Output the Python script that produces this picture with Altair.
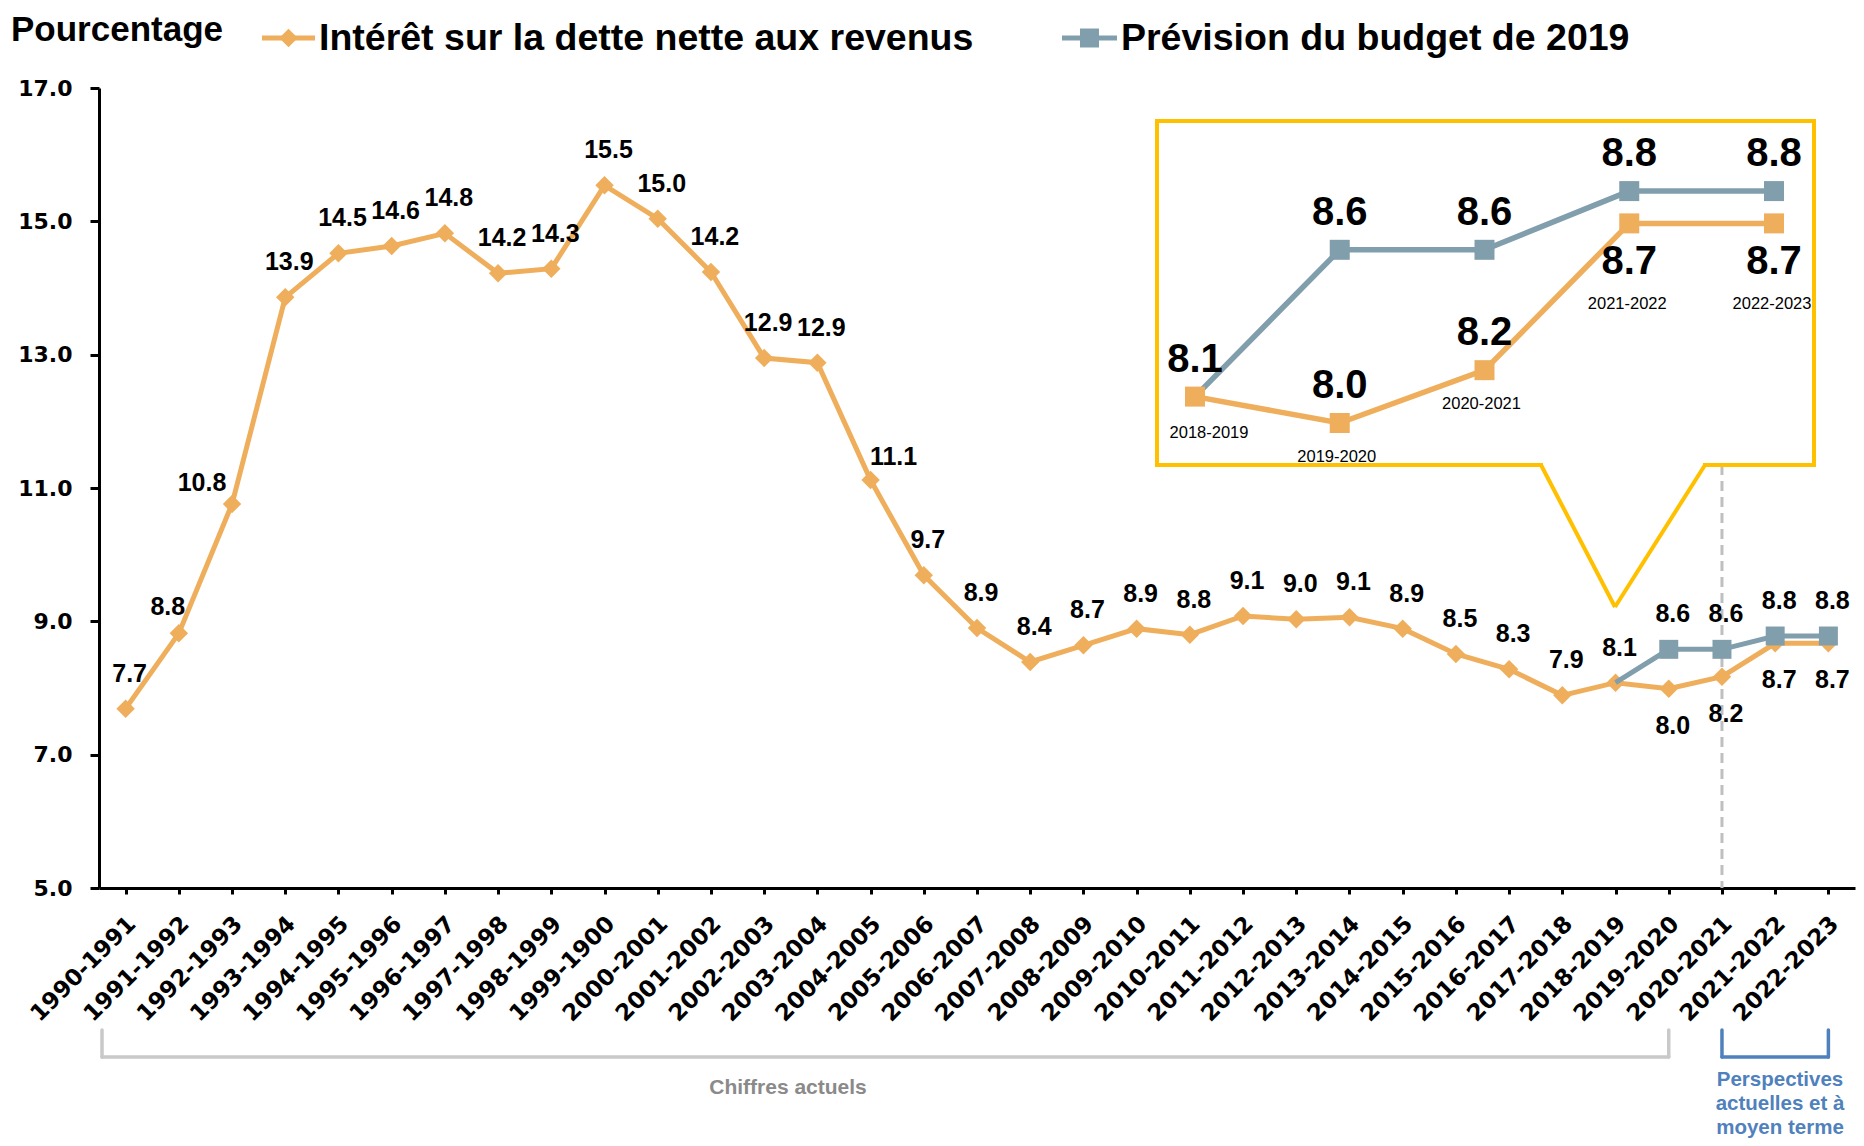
import altair as alt
import pandas as pd

# ---------------- data ----------------
categories = ["1990-1991", "1991-1992", "1992-1993", "1993-1994", "1994-1995", "1995-1996",
              "1996-1997", "1997-1998", "1998-1999", "1999-1900", "2000-2001", "2001-2002",
              "2002-2003", "2003-2004", "2004-2005", "2005-2006", "2006-2007", "2007-2008",
              "2008-2009", "2009-2010", "2010-2011", "2011-2012", "2012-2013", "2013-2014",
              "2014-2015", "2015-2016", "2016-2017", "2017-2018", "2018-2019", "2019-2020",
              "2020-2021", "2021-2022", "2022-2023"]
interest_values = [7.69, 8.82, 10.76, 13.86, 14.52, 14.63, 14.82, 14.22, 14.29, 15.54, 15.04, 14.24,
                   12.95, 12.88, 11.12, 9.69, 8.90, 8.39, 8.64, 8.89, 8.80, 9.08, 9.03, 9.06,
                   8.89, 8.51, 8.28, 7.89, 8.08, 7.99, 8.17, 8.67, 8.67]
interest_labels = ["7.7", "8.8", "10.8", "13.9", "14.5", "14.6", "14.8", "14.2", "14.3", "15.5", "15.0",
                   "14.2", "12.9", "12.9", "11.1", "9.7", "8.9", "8.4", "8.7", "8.9", "8.8", "9.1",
                   "9.0", "9.1", "8.9", "8.5", "8.3", "7.9", "8.1", "8.0", "8.2", "8.7", "8.7"]
budget_categories = ["2018-2019", "2019-2020", "2020-2021", "2021-2022", "2022-2023"]
budget_values = [8.08, 8.58, 8.58, 8.78, 8.78]
budget_labels = ["8.1", "8.6", "8.6", "8.8", "8.8"]
y_ticks = [5, 7, 9, 11, 13, 15, 17]

series_names = ["Intérêt sur la dette nette aux revenus", "Prévision du budget de 2019"]
actual_label = "Chiffres actuels"
outlook_label = "Perspectives\nactuelles et à\nmoyen terme"
y_title = "Pourcentage"

# ---------------- styling ----------------
ORANGE = "#EFAE5B"
BLUE = "#819EAD"
YELLOW = "#FFC000"
FONT = "Liberation Sans"
W, H = 1756, 800

df = pd.DataFrame({"cat": categories, "val": interest_values, "lab": interest_labels})
bdf = pd.DataFrame({"cat": budget_categories, "val": budget_values, "lab": budget_labels})
one = pd.DataFrame({"a": [0]})

forecast = budget_categories[1:]
upper_left = ["1991-1992"]
left = ["1992-1993"]
upper_right = ["2004-2005"]


def place(c):
    if c in forecast:
        return "below"
    if c in upper_left:
        return "ul"
    if c in left:
        return "l"
    if c in upper_right:
        return "ur"
    return "above"


df["pos"] = df["cat"].map(place)

x_axis = alt.Axis(labelAngle=-45, labelFont="DejaVu Sans", labelFontWeight="bold", labelFontSize=23,
                  labelColor="black", labelPadding=26, labelOffset=6, tickSize=6, tickWidth=3,
                  tickColor="black", domainColor="black", domainWidth=3, grid=False, title=None,
                  labelAlign="right", labelBaseline="middle")
y_axis = alt.Axis(values=y_ticks, format=".1f", labelFont="DejaVu Sans", labelFontWeight="bold",
                  labelFontSize=22, labelColor="black", labelPadding=18, tickSize=9, tickWidth=3,
                  tickColor="black", domainColor="black", domainWidth=3, grid=False, title=None)

X = alt.X("cat:N", scale=alt.Scale(type="point", domain=categories, padding=0.5), axis=x_axis)
Y = alt.Y("val:Q", scale=alt.Scale(domain=[5, 17], nice=False, zero=False), axis=y_axis)

# ---------------- main chart ----------------
dashed = alt.Chart(df[df["cat"] == "2020-2021"]).mark_rule(
    color="#BFBFBF", strokeWidth=3, strokeDash=[10, 6]).encode(x=X, y=alt.value(377), y2=alt.value(H))

orange_line = alt.Chart(df).mark_line(color=ORANGE, strokeWidth=5).encode(x=X, y=Y)
orange_pts = alt.Chart(df).mark_point(shape="diamond", filled=True, size=340, color=ORANGE,
                                      opacity=1).encode(x=X, y=Y)
blue_line = alt.Chart(bdf).mark_line(color=BLUE, strokeWidth=5).encode(x=X, y=Y)
blue_pts = alt.Chart(bdf.iloc[1:]).mark_point(shape="square", filled=True, size=360, color=BLUE,
                                               opacity=1).encode(x=X, y=Y)


def labels(data, dx, dy):
    return alt.Chart(data).mark_text(font=FONT, fontWeight="bold", fontSize=25, color="black",
                                     dx=dx, dy=dy, baseline="middle", align="center").encode(
        x=X, y=Y, text="lab:N")


lab_above = labels(df[df["pos"] == "above"], 4, -35)
lab_below = labels(df[df["pos"] == "below"], 4, 37)
lab_ul = labels(df[df["pos"] == "ul"], -11, -26)
lab_l = labels(df[df["pos"] == "l"], -30, -21)
lab_ur = labels(df[df["pos"] == "ur"], 23, -23)
lab_blue = labels(bdf.iloc[1:], 4, -35)

# brackets under the axis
GRAY = "#C9C9C9"
BBLUE = "#4F81BD"
end_actual = pd.DataFrame({"cat": [forecast[0]]})
gray_left = alt.Chart(one).mark_rule(color=GRAY, strokeWidth=3.5, strokeCap="round").encode(
    x=alt.value(3), y=alt.value(942), y2=alt.value(969))
gray_right = alt.Chart(end_actual).mark_rule(color=GRAY, strokeWidth=3.5, strokeCap="round").encode(
    x=X, y=alt.value(942), y2=alt.value(969))
gray_h = alt.Chart(end_actual).mark_rule(color=GRAY, strokeWidth=3.5, strokeCap="round").encode(
    x=X, x2=alt.value(3), y=alt.value(969))
outlook_ends = pd.DataFrame({"cat": [budget_categories[2], budget_categories[4]]})
outlook_span = pd.DataFrame({"cat": [budget_categories[2]], "end": [budget_categories[4]]})
blue_v = alt.Chart(outlook_ends).mark_rule(color=BBLUE, strokeWidth=3.5, strokeCap="round").encode(
    x=X, y=alt.value(942), y2=alt.value(969))
blue_h = alt.Chart(outlook_span).mark_rule(color=BBLUE, strokeWidth=3.5, strokeCap="round").encode(
    x=X, x2=alt.X2("end:N"), y=alt.value(969))
actual_txt = alt.Chart(one).mark_text(font=FONT, fontWeight="bold", fontSize=21, color="#8A8A8A",
                                      align="center").encode(
    x=alt.value(689), y=alt.value(1000), text=alt.value(actual_label))
outlook_txt = alt.Chart(one).mark_text(font=FONT, fontWeight="bold", fontSize=20.5, color=BBLUE,
                                       align="center", lineBreak="\n", lineHeight=24).encode(
    x=alt.value(1681), y=alt.value(992), text=alt.value(outlook_label))

# legend + title
leg_o_line = alt.Chart(one).mark_rule(color=ORANGE, strokeWidth=5).encode(
    x=alt.value(163), x2=alt.value(216), y=alt.value(-50))
leg_o_pt = alt.Chart(one).mark_point(shape="diamond", filled=True, size=340, color=ORANGE,
                                     opacity=1).encode(x=alt.value(189.5), y=alt.value(-50))
leg_o_txt = alt.Chart(one).mark_text(font=FONT, fontWeight="bold", fontSize=37.5, color="black",
                                     align="left", baseline="middle").encode(
    x=alt.value(220), y=alt.value(-49), text=alt.value(series_names[0]))
leg_b_line = alt.Chart(one).mark_rule(color=BLUE, strokeWidth=5).encode(
    x=alt.value(963), x2=alt.value(1018), y=alt.value(-50))
leg_b_pt = alt.Chart(one).mark_point(shape="square", filled=True, size=360, color=BLUE,
                                     opacity=1).encode(x=alt.value(990.5), y=alt.value(-50))
leg_b_txt = alt.Chart(one).mark_text(font=FONT, fontWeight="bold", fontSize=37.5, color="black",
                                     align="left", baseline="middle").encode(
    x=alt.value(1022), y=alt.value(-49), text=alt.value(series_names[1]))
title_txt = alt.Chart(one).mark_text(font=FONT, fontWeight="bold", fontSize=35, color="black",
                                     align="left", baseline="alphabetic").encode(
    x=alt.value(-88), y=alt.value(-47), text=alt.value(y_title))

main = alt.layer(dashed, orange_line, orange_pts, blue_line, blue_pts,
                 lab_above, lab_below, lab_ul, lab_l, lab_ur, lab_blue,
                 gray_left, gray_right, gray_h, blue_v, blue_h, actual_txt, outlook_txt,
                 leg_o_line, leg_o_pt, leg_o_txt, leg_b_line, leg_b_pt, leg_b_txt, title_txt)

# ---------------- inset (zoom on forecast) ----------------
XI = alt.X("cat:N", scale=alt.Scale(type="point", domain=budget_categories, range=[1096, 1675],
                                    padding=0), axis=None)
YI = alt.Y("val:Q", scale=alt.Scale(domain=[7.8, 9.0], range=[390.8, 38.5], nice=False, zero=False),
           axis=None)
odf = df[df["cat"].isin(budget_categories)].copy()

box = alt.Chart(one).mark_rect(fill="white", stroke=YELLOW, strokeWidth=4).encode(
    x=alt.value(1058), x2=alt.value(1715), y=alt.value(33), y2=alt.value(377))
gap = alt.Chart(one).mark_rect(fill="white").encode(
    x=alt.value(1444), x2=alt.value(1604), y=alt.value(373), y2=alt.value(381))
v_left = alt.Chart(one).mark_rule(color=YELLOW, strokeWidth=4).encode(
    x=alt.value(1442), y=alt.value(377), x2=alt.value(1516), y2=alt.value(519))
v_right = alt.Chart(one).mark_rule(color=YELLOW, strokeWidth=4).encode(
    x=alt.value(1606), y=alt.value(377), x2=alt.value(1516), y2=alt.value(519))

i_blue_line = alt.Chart(bdf).mark_line(color=BLUE, strokeWidth=5.5).encode(x=XI, y=YI)
i_blue_pts = alt.Chart(bdf.iloc[1:]).mark_point(shape="square", filled=True, size=400, color=BLUE,
                                                 opacity=1).encode(x=XI, y=YI)
i_or_line = alt.Chart(odf).mark_line(color=ORANGE, strokeWidth=5.5).encode(x=XI, y=YI)
i_or_pts = alt.Chart(odf).mark_point(shape="square", filled=True, size=400, color=ORANGE,
                                     opacity=1).encode(x=XI, y=YI)


def ilabels(data, dy, field="lab:N", size=40, weight="bold", dx=0):
    return alt.Chart(data).mark_text(font=FONT, fontWeight=weight, fontSize=size, color="black",
                                     dx=dx, dy=dy, baseline="middle", align="center").encode(
        x=XI, y=YI, text=field)


i_lab_o_up = ilabels(odf.iloc[:3], -37)
i_lab_o_dn = ilabels(odf.iloc[3:], 39)
i_lab_b = ilabels(bdf.iloc[1:], -37)
i_cat_first = ilabels(odf.iloc[:1], 36, field="cat:N", size=16.5, weight="normal", dx=14)
i_cat_near = ilabels(odf.iloc[1:3], 34, field="cat:N", size=16.5, weight="normal", dx=-3)
i_cat_far = ilabels(odf.iloc[3:], 81, field="cat:N", size=16.5, weight="normal", dx=-2)

inset = alt.layer(box, gap, v_left, v_right, i_blue_line, i_blue_pts, i_or_line, i_or_pts,
                  i_lab_o_up, i_lab_o_dn, i_lab_b, i_cat_first, i_cat_near, i_cat_far)

chart = alt.layer(main, inset).resolve_scale(x="independent", y="independent").properties(
    width=W, height=H,
    padding={"left": 91, "top": 80, "right": 1, "bottom": 250},
    autosize=alt.AutoSizeParams(type="none"),
    background="white",
).configure_view(stroke=None)

chart.save("out.html", embed_options={"renderer": "svg", "actions": False})
